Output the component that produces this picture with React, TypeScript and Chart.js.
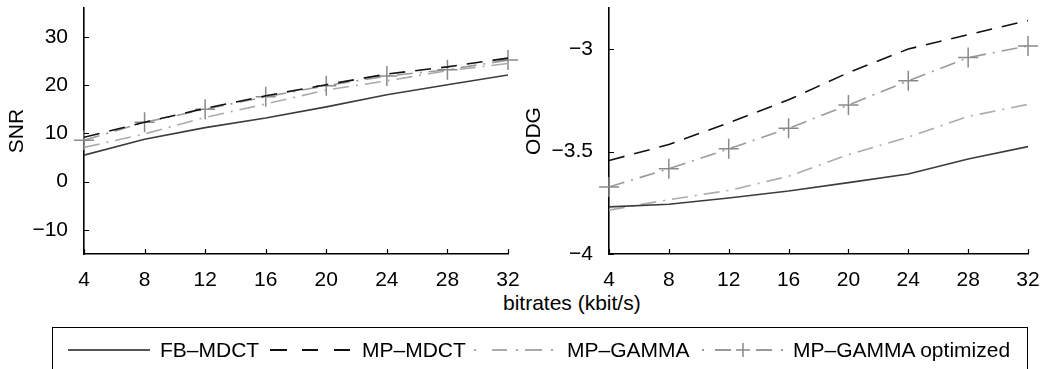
import React, { useEffect, useRef } from 'react';
import { Chart, registerables } from 'chart.js';

Chart.register(...registerables);

// ---------- data ----------
const bitrates = [4, 8, 12, 16, 20, 24, 28, 32];
const xTicks = [4, 8, 12, 16, 20, 24, 28, 32];
const snrTicks = [-10, 0, 10, 20, 30];
const odgTicks = [-4, -3.5, -3];

const seriesNames = ['FB\u2013MDCT', 'MP\u2013MDCT', 'MP\u2013GAMMA', 'MP\u2013GAMMA optimized'];

const snrFbMdct = [5.5, 8.8, 11.2, 13.2, 15.5, 18.0, 20.1, 22.1];
const snrMpMdct = [9.2, 12.3, 15.2, 17.8, 20.1, 22.3, 23.8, 25.6];
const snrMpGamma = [7.1, 9.9, 13.3, 16.1, 19.0, 20.9, 23.0, 24.5];
const snrMpGammaOpt = [8.6, 12.3, 15.0, 17.6, 19.9, 21.9, 23.2, 25.2];

const odgFbMdct = [-3.77, -3.757, -3.727, -3.693, -3.652, -3.61, -3.537, -3.476];
const odgMpMdct = [-3.544, -3.466, -3.36, -3.248, -3.115, -3.0, -2.93, -2.861];
const odgMpGamma = [-3.786, -3.735, -3.69, -3.621, -3.515, -3.43, -3.329, -3.27];
const odgMpGammaOpt = [-3.673, -3.584, -3.487, -3.387, -3.273, -3.155, -3.042, -2.985];

const FONT = '"Liberation Sans", Arial, Helvetica, sans-serif';
const FS = 21;

const inwardTicks = {
  id: 'inwardTicks',
  afterDraw(chart: any) {
    const { ctx } = chart;
    const x = chart.scales.x;
    const y = chart.scales.y;
    ctx.save();
    ctx.strokeStyle = '#000';
    ctx.lineWidth = 1.2;
    ctx.beginPath();
    x.ticks.forEach((t: any) => {
      const px = Math.round(x.getPixelForValue(t.value)) + 0.5;
      ctx.moveTo(px, x.top);
      ctx.lineTo(px, x.top - 5);
    });
    y.ticks.forEach((t: any) => {
      const py = Math.round(y.getPixelForValue(t.value)) + 0.5;
      ctx.moveTo(y.right, py);
      ctx.lineTo(y.right + 5, py);
    });
    ctx.stroke();
    ctx.restore();
  },
};

const fmt = (v: number) => String(v).replace('-', '\u2212');

function makeConfig(
  title: string,
  data: number[][],
  yMin: number,
  yMax: number,
  yTicks: number[],
  yWidth: number,
  padRight: number,
  titlePad: number
): any {
  const pts = (arr: number[]) => bitrates.map((b, i) => ({ x: b, y: arr[i] }));
  return {
    type: 'line',
    data: {
      datasets: [
        {
          label: seriesNames[0],
          data: pts(data[0]),
          borderColor: '#3c3c3c',
          borderWidth: 1.6,
          pointRadius: 0,
          tension: 0,
        },
        {
          label: seriesNames[1],
          data: pts(data[1]),
          borderColor: '#111111',
          borderWidth: 1.6,
          borderDash: [16, 10],
          pointRadius: 0,
          tension: 0,
        },
        {
          label: seriesNames[2],
          data: pts(data[2]),
          borderColor: '#ababab',
          borderWidth: 1.6,
          borderDash: [16, 7, 2, 7],
          pointRadius: 0,
          tension: 0,
        },
        {
          label: seriesNames[3],
          data: pts(data[3]),
          borderColor: '#9a9a9a',
          borderWidth: 1.6,
          borderDash: [16, 7, 2, 7],
          pointStyle: 'cross',
          pointRadius: 10,
          pointBorderColor: '#8a8a8a',
          pointBorderWidth: 1.5,
          pointBackgroundColor: '#8a8a8a',
          tension: 0,
          clip: false,
        },
      ],
    },
    options: {
      responsive: false,
      animation: false,
      devicePixelRatio: 1,
      layout: { autoPadding: false, padding: { top: 8, right: padRight, left: 0, bottom: 0 } },
      plugins: { legend: { display: false }, tooltip: { enabled: false } },
      scales: {
        x: {
          type: 'linear',
          min: 4,
          max: 32,
          afterBuildTicks: (s: any) => {
            s.ticks = xTicks.map((v) => ({ value: v }));
          },
          afterFit: (s: any) => {
            s.height = 36;
            s.paddingLeft = 0;
            s.paddingRight = 0;
            s.paddingTop = 0;
            s.paddingBottom = 0;
          },
          grid: { display: false },
          border: { display: true, color: '#000', width: 1.6 },
          ticks: {
            color: '#000',
            font: { family: FONT, size: FS },
            padding: 6,
            maxRotation: 0,
            autoSkip: false,
          },
        },
        y: {
          type: 'linear',
          min: yMin,
          max: yMax,
          afterBuildTicks: (s: any) => {
            s.ticks = yTicks.map((v) => ({ value: v }));
          },
          afterFit: (s: any) => {
            s.width = yWidth;
            s.paddingLeft = 0;
            s.paddingRight = 0;
            s.paddingTop = 0;
            s.paddingBottom = 0;
          },
          grid: { display: false },
          border: { display: true, color: '#000', width: 1.6 },
          title: {
            display: true,
            text: title,
            color: '#000',
            font: { family: FONT, size: FS },
            padding: { top: titlePad, bottom: 0 },
          },
          ticks: {
            color: '#000',
            font: { family: FONT, size: FS },
            padding: 8,
            autoSkip: false,
            callback: (v: any) => fmt(Number(v)),
          },
        },
      },
    },
    plugins: [inwardTicks],
  };
}

function LineChart(props: { cfg: () => any; left: number; width: number; height: number }) {
  const ref = useRef<HTMLCanvasElement | null>(null);
  useEffect(() => {
    const c = new Chart(ref.current as HTMLCanvasElement, props.cfg());
    return () => c.destroy();
  }, []);
  return (
    <canvas
      ref={ref}
      width={props.width}
      height={props.height}
      style={{
        position: 'absolute',
        left: props.left,
        top: 0,
        width: props.width,
        height: props.height,
        display: 'block',
      }}
    />
  );
}

const textStyle: React.CSSProperties = {
  position: 'absolute',
  fontFamily: FONT,
  fontSize: FS,
  color: '#000',
  whiteSpace: 'nowrap',
  lineHeight: '24px',
};

export default function App() {
  return (
    <div
      style={{
        position: 'absolute',
        left: 0,
        top: 0,
        width: 1048,
        height: 369,
        background: '#fff',
        overflow: 'hidden',
      }}
    >
      <LineChart
        left={0}
        width={520}
        height={290}
        cfg={() =>
          makeConfig('SNR', [snrFbMdct, snrMpMdct, snrMpGamma, snrMpGammaOpt], -15, 36, snrTicks, 84, 12, 5)
        }
      />
      <LineChart
        left={520}
        width={528}
        height={290}
        cfg={() =>
          makeConfig('ODG', [odgFbMdct, odgMpMdct, odgMpGamma, odgMpGammaOpt], -4, -2.8, odgTicks, 89, 20, 2)
        }
      />
      <div style={{ ...textStyle, left: 503, top: 291 }}>bitrates (kbit/s)</div>
      <div
        style={{
          position: 'absolute',
          left: 52,
          top: 327,
          width: 976,
          height: 60,
          border: '1.6px solid #000',
          boxSizing: 'border-box',
        }}
      />
      <svg
        width={1048}
        height={369}
        style={{ position: 'absolute', left: 0, top: 0 }}
      >
        <line x1={68} y1={350} x2={150} y2={350} stroke="#555" strokeWidth={2} />
        <line x1={270} y1={350} x2={287} y2={350} stroke="#111" strokeWidth={2} />
        <line x1={302} y1={350} x2={318} y2={350} stroke="#111" strokeWidth={2} />
        <line x1={334} y1={350} x2={350} y2={350} stroke="#111" strokeWidth={2} />
        <line x1={474} y1={350} x2={476} y2={350} stroke="#aaa" strokeWidth={2} />
        <line x1={492} y1={350} x2={507} y2={350} stroke="#aaa" strokeWidth={2} />
        <line x1={516} y1={350} x2={518} y2={350} stroke="#aaa" strokeWidth={2} />
        <line x1={525} y1={350} x2={542} y2={350} stroke="#aaa" strokeWidth={2} />
        <line x1={551} y1={350} x2={553} y2={350} stroke="#aaa" strokeWidth={2} />
        <line x1={702} y1={350} x2={704} y2={350} stroke="#999" strokeWidth={2} />
        <line x1={715} y1={350} x2={731} y2={350} stroke="#999" strokeWidth={2} />
        <line x1={756} y1={350} x2={772} y2={350} stroke="#999" strokeWidth={2} />
        <line x1={781} y1={350} x2={783} y2={350} stroke="#999" strokeWidth={2} />
        <line x1={736} y1={350} x2={750} y2={350} stroke="#8a8a8a" strokeWidth={1.5} />
        <line x1={743} y1={343} x2={743} y2={357} stroke="#8a8a8a" strokeWidth={1.5} />
      </svg>
      <div style={{ ...textStyle, left: 160, top: 338 }}>{seriesNames[0]}</div>
      <div style={{ ...textStyle, left: 362, top: 338 }}>{seriesNames[1]}</div>
      <div style={{ ...textStyle, left: 567, top: 338 }}>{seriesNames[2]}</div>
      <div style={{ ...textStyle, left: 793, top: 338 }}>{seriesNames[3]}</div>
    </div>
  );
}
